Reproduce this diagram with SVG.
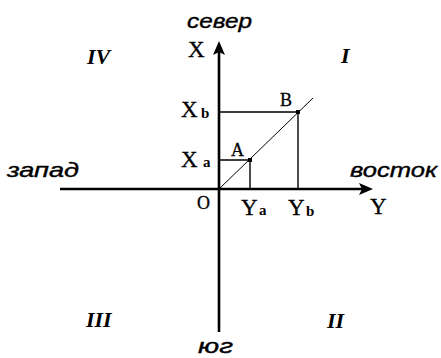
<svg xmlns="http://www.w3.org/2000/svg" width="441" height="358" viewBox="0 0 441 358">
<defs>
<style>
.ax{stroke:#000;stroke-width:2.6;fill:none}
.th{stroke:#000;stroke-width:1.4;fill:none}
.dg{stroke:#000;stroke-width:1;fill:none}
.ah{fill:#000}
.cy{font-family:"Liberation Sans",Arial,sans-serif;font-style:italic;font-size:21px;fill:#000;stroke:#000;stroke-width:0.4}
.lt{font-family:"Liberation Serif","Times New Roman",serif;font-size:23px;fill:#000;stroke:#000;stroke-width:0.3}
.pt{font-family:"Liberation Serif","Times New Roman",serif;font-size:18px;fill:#000;stroke:#000;stroke-width:0.3}
.sb{font-family:"Liberation Serif","Times New Roman",serif;font-size:15px;font-weight:bold;fill:#000}
.rn{font-family:"Liberation Serif","Times New Roman",serif;font-size:22px;font-style:italic;font-weight:bold;fill:#000}
</style>
</defs>
<rect width="441" height="358" fill="#fff"/>
<g id="connectors">
<line class="ax" x1="219" y1="50" x2="219" y2="332"/>
<path class="ah" d="M219,41 L225,55 L219,52 L213,55 Z"/>
<line class="ax" x1="60" y1="189" x2="364" y2="189"/>
<path class="ah" d="M373,189 L359,195 L362,189 L359,183 Z"/>
<line class="dg" x1="219" y1="189" x2="313" y2="98"/>
<polyline class="th" points="220,112 298,112 298,189"/>
<polyline class="th" points="220,160 250,160 250,189"/>
</g>
<g id="pointA"><rect x="248" y="158" width="4" height="4" fill="#000"/><text class="pt" x="231" y="156">A</text></g>
<g id="pointB"><rect x="296" y="110" width="4" height="4" fill="#000"/><text class="pt" x="280" y="106">B</text></g>
<g id="originO"><text class="pt" x="197" y="209">O</text></g>
<g id="north"><text class="cy" x="187" y="28" textLength="65" lengthAdjust="spacingAndGlyphs">север</text></g>
<g id="south"><text class="cy" x="198" y="353" textLength="35" lengthAdjust="spacingAndGlyphs">юг</text></g>
<g id="west"><text class="cy" x="7" y="177" textLength="72" lengthAdjust="spacingAndGlyphs">запад</text></g>
<g id="east"><text class="cy" x="350" y="177" textLength="87" lengthAdjust="spacingAndGlyphs">восток</text></g>
<g id="axisX"><text class="lt" x="188" y="57">X</text></g>
<g id="axisY"><text class="lt" x="370" y="214">Y</text></g>
<g id="Xb"><text class="lt" x="181" y="117">X</text><text class="sb" x="201" y="118">b</text></g>
<g id="Xa"><text class="lt" x="181" y="167">X</text><text class="sb" x="203" y="167">a</text></g>
<g id="Ya"><text class="lt" x="241" y="215">Y</text><text class="sb" x="259" y="215">a</text></g>
<g id="Yb"><text class="lt" x="288" y="215">Y</text><text class="sb" x="306" y="216">b</text></g>
<g id="qI"><text class="rn" x="341" y="63">I</text></g>
<g id="qII"><text class="rn" x="327" y="328">II</text></g>
<g id="qIII"><text class="rn" x="86" y="327">III</text></g>
<g id="qIV"><text class="rn" x="87" y="64">IV</text></g>
</svg>
